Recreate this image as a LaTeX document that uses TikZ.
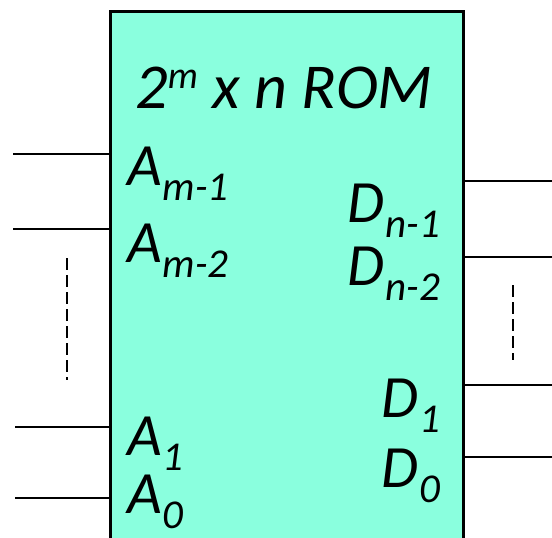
\documentclass[tikz,border=0pt]{standalone}
\usepackage{fontspec}
\setmainfont{Carlito}
\definecolor{romfill}{RGB}{138,255,222}
\newcommand{\lbl}[2]{#1\kern1pt\raisebox{-15pt}{\fontsize{41}{41}\selectfont #2}}
\begin{document}
\begin{tikzpicture}[x=1pt,y=-1pt,
  wire/.style={line width=2pt, line cap=butt},
  dots/.style={line width=1.6pt, dash pattern=on 12pt off 5pt},
  lab/.style={inner sep=0pt, font=\fontsize{60}{60}\selectfont\itshape},
  ]
\useasboundingbox (0,0) rectangle (552,538);
\node[draw, line width=2.5pt, fill=romfill, minimum width=353pt, minimum height=560pt,
      anchor=north west, inner sep=0pt] (rom) at (109,10) {};
% title
\node[lab, anchor=base, font=\fontsize{64}{64}\selectfont\itshape] (title) at (284,108)
  {2\raisebox{20pt}{\fontsize{38}{38}\selectfont m} x n ROM};
% address labels
\node[lab, anchor=base west] (am1) at (127,185) {\lbl{A}{m-1}};
\node[lab, anchor=base west] (am2) at (127,262) {\lbl{A}{m-2}};
\node[lab, anchor=base west] (a1) at (127,455) {\lbl{A}{1}};
\node[lab, anchor=base west] (a0) at (127,513) {\lbl{A}{0}};
% data labels
\node[lab, anchor=base east] (dn1) at (440,222) {\lbl{D}{n-1}};
\node[lab, anchor=base east] (dn2) at (440,285) {\lbl{D}{n-2}};
\node[lab, anchor=base east] (d1) at (440,417) {\lbl{D}{1}};
\node[lab, anchor=base east] (d0) at (440,487) {\lbl{D}{0}};
% wire ends
\coordinate (i1) at (13,154);
\coordinate (i2) at (13,229);
\coordinate (i3) at (15,427);
\coordinate (i4) at (15,498);
\coordinate (o1) at (552,181);
\coordinate (o2) at (552,257);
\coordinate (o3) at (552,385);
\coordinate (o4) at (552,457);
\foreach \c in {i1,i2,i3,i4} \draw[wire] (\c) -- (\c -| rom.west);
\foreach \c in {o1,o2,o3,o4} \draw[wire] (\c -| rom.east) -- (\c);
% ellipsis dashes
\coordinate (ldt) at (67,258);
\coordinate (ldb) at (67,380);
\coordinate (rdt) at (513,285);
\coordinate (rdb) at (513,360);
\draw[dots] (ldt) -- (ldb);
\draw[dots] (rdt) -- (rdb);
\end{tikzpicture}
\end{document}
